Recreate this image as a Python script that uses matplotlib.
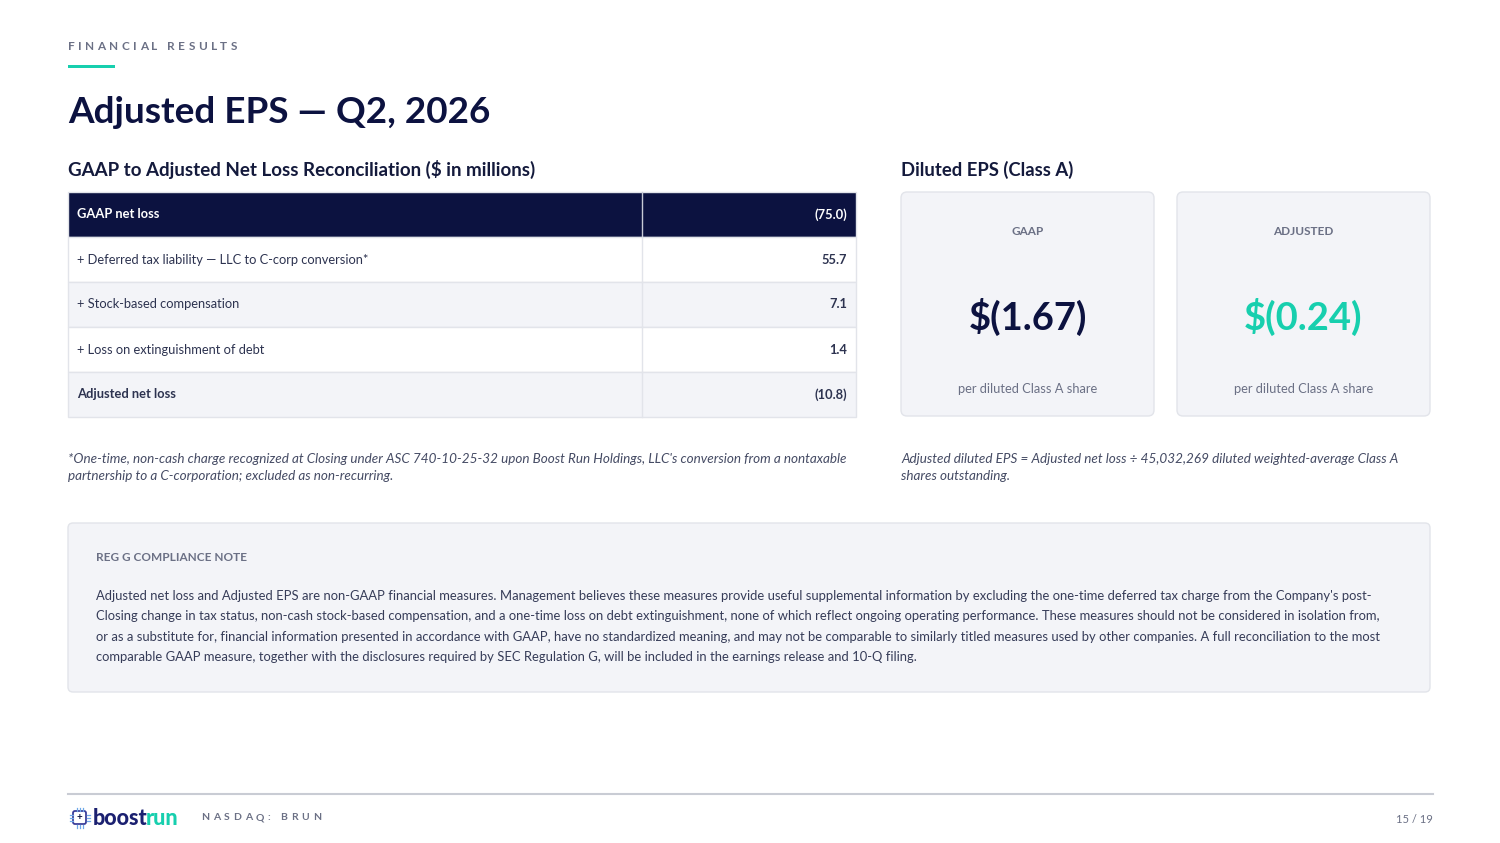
import matplotlib
matplotlib.use("Agg")
import matplotlib.pyplot as plt
from matplotlib.patches import FancyBboxPatch, Rectangle
from matplotlib.font_manager import findfont, FontProperties
from matplotlib.ft2font import FT2Font

plt.rcParams['font.family'] = ['Lato', 'DejaVu Sans']

# data
kicker = "FINANCIAL RESULTS"
title = "Adjusted EPS \u2014 Q2, 2026"
table_title = "GAAP to Adjusted Net Loss Reconciliation ($ in millions)"
row_labels = ["GAAP net loss",
              "+ Deferred tax liability \u2014 LLC to C-corp conversion*",
              "+ Stock-based compensation",
              "+ Loss on extinguishment of debt",
              "Adjusted net loss"]
row_values = [-75.0, 55.7, 7.1, 1.4, -10.8]
eps_title = "Diluted EPS (Class A)"
eps_labels = ["GAAP", "ADJUSTED"]
eps_values = [-1.67, -0.24]
eps_sub = "per diluted Class A share"
footnote_left = ["*One-time, non-cash charge recognized at Closing under ASC 740-10-25-32 upon Boost Run Holdings, LLC's conversion from a nontaxable",
                 "partnership to a C-corporation; excluded as non-recurring."]
footnote_right = ["Adjusted diluted EPS = Adjusted net loss \u00f7 45,032,269 diluted weighted-average Class A",
                  "shares outstanding."]
note_title = "REG G COMPLIANCE NOTE"
note_lines = ["Adjusted net loss and Adjusted EPS are non-GAAP financial measures. Management believes these measures provide useful supplemental information by excluding the one-time deferred tax charge from the Company's post-",
              "Closing change in tax status, non-cash stock-based compensation, and a one-time loss on debt extinguishment, none of which reflect ongoing operating performance. These measures should not be considered in isolation from,",
              "or as a substitute for, financial information presented in accordance with GAAP, have no standardized meaning, and may not be comparable to similarly titled measures used by other companies. A full reconciliation to the most",
              "comparable GAAP measure, together with the disclosures required by SEC Regulation G, will be included in the earnings release and 10-Q filing."]
ticker = "NASDAQ: BRUN"
page = "15 / 19"

NAVY = '#0c1240'
TEAL = '#17cfae'
GRAY = '#6b7085'
TEXT = '#2d3350'
PANEL = '#f3f4f8'
EDGE = '#e2e4ea'
DPI = 100


def money(v, prefix=""):
    if v < 0:
        return f"{prefix}({abs(v):.2f})" if prefix else f"({abs(v):.1f})"
    return f"{prefix}{v:.2f}" if prefix else f"{v:.1f}"


fig = plt.figure(figsize=(15, 8.43), dpi=DPI)
ax = fig.add_axes([0, 0, 1, 1])
ax.set_xlim(0, 1500)
ax.set_ylim(843, 0)
ax.axis('off')
renderer = fig.canvas.get_renderer()


def fit(text, width, **kw):
    t = ax.text(0, 0, text, fontsize=10, **kw)
    w = t.get_window_extent(renderer).width
    t.remove()
    return 10 * width / w


def advances(text, size, weight):
    font = FT2Font(findfont(FontProperties(family='Lato', weight=weight)))
    font.set_size(size, DPI)
    return [font.load_char(ord(ch)).linearHoriAdvance / 65536 for ch in text]


def spaced(x, y, text, size, width, weight='bold', **kw):
    # letter-spaced caps, placed from glyph advances
    adv = advances(text, size, weight)
    track = (width - sum(adv)) / (len(text) - 1)
    pen = x
    for ch, a in zip(text, adv):
        if ch != " ":
            ax.text(pen, y, ch, fontsize=size, fontweight=weight,
                    va='baseline', ha='left', **kw)
        pen += a + track


# header
spaced(68, 50, kicker, 8.5, 169, color=GRAY)
ax.add_patch(Rectangle((68, 64.5), 47, 3.5, color=TEAL, lw=0))
ax.text(68, 123, title, fontsize=fit(title, 424, fontweight='bold'),
        fontweight='bold', color=NAVY, va='baseline')

# table
ax.text(68, 176, table_title, fontsize=fit(table_title, 469, fontweight='bold'),
        fontweight='bold', color='#141a3c', va='baseline')
x0, x1, xd = 68, 856, 642
y_top, rh = 192, 45
row_fs = fit(row_labels[1], 292)
for i, (lab, val) in enumerate(zip(row_labels, row_values)):
    yt = y_top + i * rh
    if i == 0:
        fc, tc, fw = NAVY, 'white', 'bold'
    else:
        fc = 'white' if i % 2 == 1 else PANEL
        tc = TEXT
        fw = 'bold' if i == len(row_labels) - 1 else 'normal'
    ax.add_patch(Rectangle((x0, yt), x1 - x0, rh, facecolor=fc, edgecolor=EDGE, lw=1))
    ax.plot([xd, xd], [yt, yt + rh], color='#c8cad6' if i == 0 else EDGE, lw=1)
    yc = yt + rh / 2 + 4
    ax.text(77, yc, lab, fontsize=row_fs, color=tc, fontweight=fw, va='baseline')
    ax.text(847, yc, money(val), fontsize=row_fs, color=tc, fontweight='bold',
            va='baseline', ha='right')

# EPS cards
ax.text(901, 176, eps_title, fontsize=fit(eps_title, 172, fontweight='bold'),
        fontweight='bold', color='#141a3c', va='baseline')
card_x = [901, 1177]
card_w = 253
big_fs = fit(money(eps_values[0], "$"), 118, fontweight='bold')
sub_fs = fit(eps_sub, 140)
for cx, lab, val, col in zip(card_x, eps_labels, eps_values, [NAVY, TEAL]):
    ax.add_patch(FancyBboxPatch((cx, 192), card_w, 224, boxstyle="round,pad=0,rounding_size=6",
                                facecolor=PANEL, edgecolor=EDGE, lw=1))
    mid = cx + card_w / 2
    ax.text(mid, 235, lab, fontsize=8.5, fontweight='bold', color=GRAY, ha='center', va='baseline')
    ax.text(mid, 330, money(val, "$"), fontsize=big_fs, fontweight='bold', color=col,
            ha='center', va='baseline')
    ax.text(mid, 393, eps_sub, fontsize=sub_fs, color=GRAY, ha='center', va='baseline')

# footnotes
fn_fs = fit(footnote_left[0], 778, style='italic')
for k, line in enumerate(footnote_left):
    ax.text(68, 463 + k * 17, line, fontsize=fn_fs, style='italic', color='#454b64', va='baseline')
for k, line in enumerate(footnote_right):
    ax.text(901, 463 + k * 17, line, fontsize=fn_fs, style='italic', color='#454b64', va='baseline')

# compliance note
ax.add_patch(FancyBboxPatch((68, 523), 1362, 169, boxstyle="round,pad=0,rounding_size=5",
                            facecolor=PANEL, edgecolor=EDGE, lw=1))
ax.text(96, 561, note_title, fontsize=8.5, fontweight='bold', color=GRAY, va='baseline')
note_fs = fit(note_lines[0], 1279)
for k, line in enumerate(note_lines):
    ax.text(96, 600 + k * 20.3, line, fontsize=note_fs, color='#363c58', va='baseline')

# footer
ax.plot([68, 1433], [794, 794], color='#c9ccd4', lw=1.5)
ax.add_patch(FancyBboxPatch((73, 811), 13, 13, boxstyle="round,pad=0,rounding_size=2",
                            facecolor='white', edgecolor='#3b3f9a', lw=1.3))
for px in [76.5, 79.5, 82.5]:
    ax.plot([px, px], [807.5, 810.5], color='#6fa8e8', lw=0.9)
    ax.plot([px, px], [824.5, 827.5], color='#6fa8e8', lw=0.9)
for py in [814.5, 817.5, 820.5]:
    ax.plot([69.5, 72.5], [py, py], color='#6fa8e8', lw=0.9)
    ax.plot([86.5, 89.5], [py, py], color='#6fa8e8', lw=0.9)
ax.text(79.5, 817.5, "+", fontsize=7, fontweight='bold', color=NAVY, ha='center', va='center')
logo_fs = 15.5
ax.text(93, 825, "boost", fontsize=logo_fs, fontweight='black', color='#1b2070', va='baseline')
run_x = 93 + sum(advances("boost", logo_fs, 'black')) - 2
ax.text(run_x, 825, "run", fontsize=logo_fs, fontweight='black', color=TEAL, va='baseline')
spaced(201, 820, ticker, 7.5, 120, color=GRAY)
ax.text(1433, 823, page, fontsize=8, color=GRAY, ha='right', va='baseline')

fig.savefig("out.png", dpi=DPI)
